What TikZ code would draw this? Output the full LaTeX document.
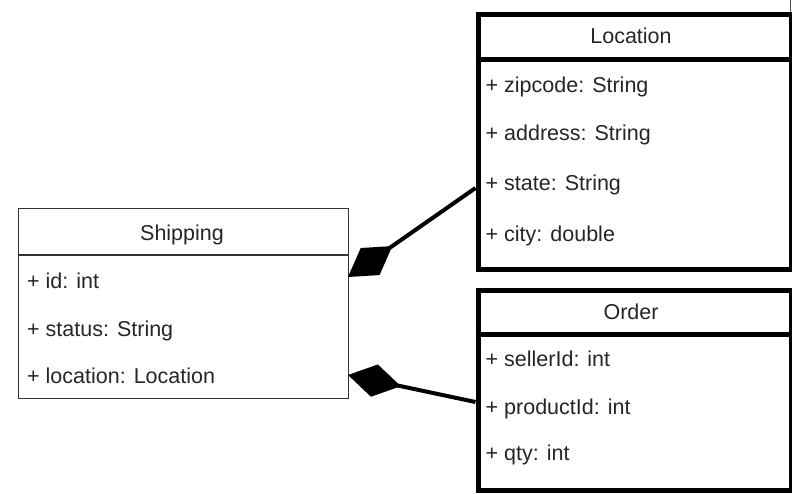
\documentclass[tikz,border=0pt]{standalone}
\usepackage{fontspec}
\setmainfont{Liberation Sans}
\usetikzlibrary{arrows.meta}
\begin{document}
\begin{tikzpicture}[x=1pt,y=-1pt,
  thinbox/.style={draw=black!80, line width=1.3pt, fill=white, inner sep=0pt, anchor=north west},
  thickbox/.style={draw=black, line width=5pt, fill=white, inner sep=0pt, anchor=north west},
  septhin/.style={draw=black!80, line width=1.3pt},
  septhick/.style={draw=black, line width=4.5pt},
  txt/.style={inner sep=0pt, anchor=base west, text=black!85, font=\fontsize{21.5}{26}\selectfont},
  ttl/.style={inner sep=0pt, anchor=base, text=black!85, font=\fontsize{21.5}{26}\selectfont},
  comp/.style={line width=4pt, {Diamond[length=54pt,width=33pt,line width=0pt]}-}
]
\useasboundingbox (0,0) rectangle (792,494);
\fill[white] (0,0) rectangle (792,494);

% Shipping
\node[thinbox, minimum width=330pt, minimum height=190pt] (ship) at (17.5,208) {};
\draw[septhin] (ship.west |- 0,255) -- (ship.east |- 0,255);
\node[ttl] (shipT) at (182,240.7) {Shipping};
\node[txt] (ship1) at (27,288) {+ id: int};
\node[txt] (ship2) at (27,336) {+ status: String};
\node[txt] (ship3) at (27,383) {+ location: Location};

% Location
\node[thickbox, minimum width=313pt, minimum height=255pt] (loc) at (475.5,12.5) {};
\draw[septhick] (loc.west |- 0,59.5) -- (loc.east |- 0,59.5);
\node[ttl] (locT) at (631,44) {Location};
\node[txt] (loc1) at (485.5,92.3) {+ zipcode: String};
\node[txt] (loc2) at (485.5,140.5) {+ address: String};
\node[txt] (loc3) at (485.5,190.7) {+ state: String};
\node[txt] (loc4) at (485.5,241.7) {+ city: double};

% Order
\node[thickbox, minimum width=313pt, minimum height=200pt] (ord) at (475.5,287.5) {};
\draw[septhick] (ord.west |- 0,334.5) -- (ord.east |- 0,334.5);
\node[ttl] (ordT) at (631,319.3) {Order};
\node[txt] (ord1) at (485.5,366.7) {+ sellerId: int};
\node[txt] (ord2) at (485.5,414) {+ productId: int};
\node[txt] (ord3) at (485.5,460.7) {+ qty: int};

% connectors
\coordinate (a1) at (348,277);
\coordinate (b1) at (475.5,188);
\coordinate (a2) at (348,375);
\coordinate (b2) at (475.5,402);
\draw[comp] (a1) -- (b1);
\draw[comp] (a2) -- (b2);

% edge line at top right
\coordinate (e1) at (790.5,0);
\coordinate (e2) at (790.5,12);
\draw[black!70, line width=1.5pt] (e1) -- (e2);
\end{tikzpicture}
\end{document}
